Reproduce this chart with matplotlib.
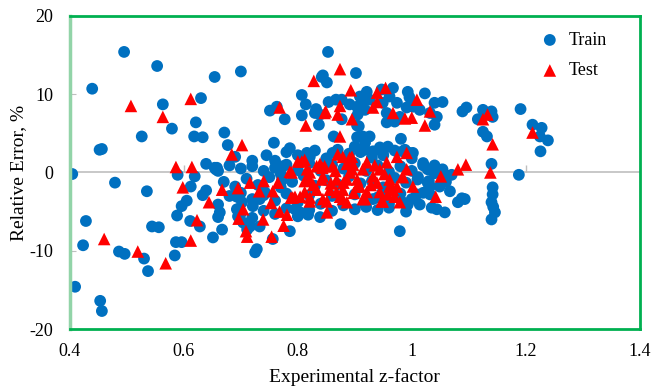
import numpy as np
import matplotlib
matplotlib.use("Agg")
import matplotlib.pyplot as plt

plt.rcParams["font.family"] = ["Liberation Serif", "DejaVu Serif"]

# (experimental z-factor, relative error %) pairs, grouped by region
train_left = [
    (0.404, -0.2), (0.409, -14.6), (0.423, -9.3), (0.428, -6.2), (0.439, 10.7),
    (0.452, 2.9), (0.456, 3.0), (0.453, -16.4), (0.456, -17.7), (0.479, -1.3),
    (0.486, -10.1), (0.496, -10.4), (0.495, 15.4), (0.526, 4.6), (0.530, -11.0),
    (0.535, -2.4), (0.537, -12.6), (0.544, -6.9), (0.556, -7.0), (0.553, 13.6),
    (0.563, 8.7), (0.579, 5.6), (0.584, -10.6), (0.586, -8.9), (0.596, -8.9),
    (0.589, -0.3), (0.619, -0.5), (0.612, -1.8), (0.639, -2.3), (0.633, -2.9),
    (0.605, -3.6), (0.596, -4.3), (0.588, -5.5), (0.611, -6.2), (0.628, -6.9),
    (0.651, -8.3), (0.621, 6.4), (0.618, 4.6), (0.633, 4.5), (0.630, 9.5),
    (0.654, 12.2), (0.700, 12.9), (0.639, 1.1), (0.654, 0.6), (0.671, 5.1),
    (0.677, 3.5), (0.656, 0.4), (0.660, -4.1), (0.660, -5.7), (0.667, -7.3),
    (0.663, -5.1), (0.693, -3.1), (0.693, -4.7), (0.702, -3.8), (0.695, -5.6),
    (0.704, -6.4), (0.711, -7.3), (0.716, -6.9), (0.728, -9.8), (0.725, -10.2),
    (0.733, -3.4), (0.742, -2.5), (0.721, -4.3), (0.756, -8.5), (0.786, -7.5),
    (0.733, -6.9), (0.658, 0.6),
]

train_upper = [
    (0.758, 3.8), (0.786, 3.1), (0.751, 7.9), (0.763, 8.4), (0.777, 6.8),
    (0.807, 9.9), (0.814, 8.7), (0.807, 7.3), (0.837, 6.1), (0.830, 7.6),
    (0.842, 12.2), (0.853, 15.4), (0.851, 11.5), (0.902, 12.7), (0.844, 12.4),
    (0.854, 9.0), (0.867, 9.3), (0.877, 9.3), (0.891, 8.7), (0.904, 8.4),
    (0.832, 8.1), (0.839, 7.4), (0.877, 6.8), (0.863, 4.6), (0.904, 6.0),
    (0.904, 4.5), (0.816, 2.5), (0.821, 2.0), (0.921, 10.3), (0.909, 9.7),
    (0.914, 8.9), (0.905, 7.4), (0.918, 8.0), (0.926, 9.3), (0.947, 10.6),
    (0.967, 10.8), (0.961, 9.7), (0.974, 8.9), (0.949, 8.9), (0.956, 7.6),
    (0.993, 10.3), (1.023, 10.1), (0.996, 9.6), (1.002, 8.4), (1.014, 8.0),
    (0.991, 8.3), (0.979, 7.1), (1.040, 8.9), (1.054, 9.0), (1.044, 7.1),
    (1.040, 6.1), (1.032, 7.6), (0.956, 6.4), (0.970, 6.5), (0.907, 5.9),
    (0.914, 4.6), (0.926, 4.6), (0.918, 3.8), (0.981, 4.3), (0.944, 3.2),
    (0.958, 3.3), (0.932, 2.7), (0.949, 2.5), (0.984, 2.7), (0.996, 2.5),
    (0.861, 2.5), (0.900, 3.3), (0.918, 2.9), (0.944, 2.9), (1.002, 2.5),
    (0.988, 2.9),
]

train_right = [
    (1.089, 7.8), (1.096, 8.3), (1.116, 6.8), (1.125, 8.0), (1.140, 7.8),
    (1.142, 7.1), (1.125, 5.2), (1.132, 4.6), (1.140, 1.1), (1.191, 8.1),
    (1.212, 6.1), (1.228, 5.7), (1.239, 4.1), (1.225, 4.6), (1.226, 2.7),
    (1.188, -0.3), (1.142, -1.9), (1.142, -2.8), (1.140, -3.8), (1.143, -4.4),
    (1.146, -5.1), (1.140, -6.0), (1.058, -0.3), (1.067, -2.4), (1.032, -2.8),
    (1.035, -4.5), (1.044, -4.7), (1.058, -5.1), (1.081, -3.8), (1.093, -3.4),
    (1.049, -1.8), (1.032, -1.8), (1.028, 0.4), (1.054, 0.4), (1.061, -0.5),
    (1.011, -0.6), (1.028, -1.3), (1.014, -4.1), (0.993, -4.1), (0.979, -7.5),
    (0.918, -4.1), (0.932, -3.4), (0.949, -2.5), (0.984, -3.8), (1.009, -2.8),
    (0.875, -6.6), (1.070, -0.3), (1.030, -1.1), (1.088, -3.3), (0.818, -5.4),
    (0.795, -4.7), (0.804, -5.1), (0.839, -5.7), (0.774, 0.8), (0.770, -0.2),
    (0.772, -1.0),
]

train_core = [
    (0.690, 2.0), (0.720, 1.5), (0.745, 2.2), (0.760, 1.5), (0.780, 2.6),
    (0.800, 2.2), (0.830, 2.8), (0.850, 1.8), (0.870, 2.9), (0.890, 2.4),
    (0.910, 2.6), (0.930, 1.9), (0.950, 2.2), (0.970, 2.8), (1.000, 1.8),
    (1.020, 1.2), (1.040, 0.9),
    (0.660, 0.2), (0.680, 0.9), (0.700, 0.5), (0.720, 0.8), (0.740, 0.2),
    (0.760, 0.6), (0.780, 1.0), (0.800, 0.3), (0.820, 1.2), (0.840, 0.2),
    (0.860, 1.0), (0.880, 0.5), (0.900, 1.2), (0.920, 0.2), (0.940, 0.9),
    (0.960, 0.1), (0.980, 0.8), (1.000, 0.2), (1.020, 0.9), (1.040, -0.1),
    (0.670, -1.2), (0.690, -1.8), (0.710, -0.8), (0.730, -1.6), (0.750, -0.6),
    (0.770, -1.9), (0.790, -1.2), (0.810, -0.4), (0.830, -1.7), (0.850, -1.0),
    (0.870, -1.5), (0.890, -0.5), (0.910, -1.4), (0.930, -1.1), (0.950, -1.9),
    (0.970, -0.7), (0.990, -1.3), (1.010, -0.9), (1.030, -1.5), (1.060, -1.2),
    (0.680, -3.0), (0.700, -2.6), (0.720, -3.4), (0.740, -2.9), (0.760, -3.6),
    (0.780, -2.7), (0.800, -3.8), (0.820, -2.9), (0.840, -4.0), (0.860, -3.0),
    (0.880, -4.2), (0.900, -2.8), (0.920, -4.4), (0.940, -3.2), (0.960, -4.0),
    (0.980, -2.7), (1.000, -3.4), (1.020, -2.6),
    (0.700, -5.2), (0.720, -5.8), (0.740, -4.9), (0.760, -5.3), (0.780, -4.6),
    (0.800, -5.6), (0.820, -4.8), (0.860, -4.9), (0.900, -4.7), (0.940, -4.8),
    (0.960, -4.5), (0.990, -5.0),
]

test_left = [
    (0.460, -8.5), (0.507, 8.5), (0.519, -10.1), (0.563, 7.1), (0.568, -11.6),
    (0.586, 0.7), (0.614, 0.7), (0.598, -1.9), (0.612, 9.4), (0.612, -8.7),
    (0.623, -6.1), (0.644, -3.8), (0.684, 2.3), (0.702, 3.5), (0.667, -2.2),
    (0.695, -2.0), (0.704, -4.7), (0.696, -5.9), (0.709, -7.5), (0.711, -8.2),
    (0.716, -1.3), (0.732, -2.4), (0.740, -1.1), (0.753, -3.9), (0.739, -6.0),
    (0.754, -8.2), (0.756, -2.4), (0.765, -1.3), (0.768, -5.0), (0.775, -6.8),
    (0.781, -5.4), (0.786, 0.1), (0.788, -3.2), (0.795, -3.1), (0.804, -3.1),
]

test_upper = [
    (0.768, 8.3), (0.814, 6.0), (0.828, 11.7), (0.847, 7.6), (0.874, 13.2),
    (0.893, 10.5), (0.874, 8.5), (0.849, 7.8), (0.870, 7.4), (0.895, 6.8),
    (0.874, 4.6), (0.812, 1.6), (0.839, 1.1), (0.870, 2.3), (0.879, 2.0),
    (0.895, 2.0), (0.886, 1.1), (0.939, 10.2), (0.939, 9.0), (0.932, 8.3),
    (0.954, 10.8), (0.967, 7.6), (1.009, 9.3), (1.032, 7.8), (0.988, 6.9),
    (1.000, 7.0), (1.023, 6.0), (0.991, 2.5), (1.125, 6.8), (1.133, 7.4),
    (1.142, 3.6), (1.212, 5.1), (1.138, 0.0), (1.095, 1.0), (1.081, 0.4),
    (1.051, -0.5), (1.042, -3.1), (0.974, 2.0),
]

test_core = [
    (0.812, -2.5), (0.821, -3.2), (0.851, -5.1), (0.851, -3.7), (0.842, -0.9),
    (0.821, -0.9), (0.816, 0.4), (0.833, 0.8), (0.800, 1.4), (0.847, 0.8),
    (0.868, -2.5), (0.879, -3.4), (0.886, -3.8), (0.861, 0.8), (0.886, -0.9),
    (0.895, 0.4), (0.904, -1.8), (1.002, -1.8), (0.984, -0.6), (0.979, -3.8),
    (0.970, -3.1), (0.947, -3.7), (0.967, -2.2), (0.914, -3.4),
    (0.807, 1.4), (0.843, 0.6), (0.891, 1.9), (0.921, 1.3), (0.956, 1.3),
    (0.991, 0.4), (0.974, -1.8), (0.949, -3.7), (0.918, -3.4), (0.821, -3.7),
    (0.791, -3.2), (0.844, -0.5), (0.868, -0.9), (0.904, -0.9), (0.932, -0.5),
    (0.961, -0.9), (0.984, -0.5), (0.856, -2.2), (0.879, -2.2), (0.921, -2.5),
    (0.944, -2.5), (0.821, 0.0), (0.891, 0.0), (0.914, 0.4), (0.944, 0.4),
    (0.812, -1.1), (0.789, 0.0), (0.833, -2.2), (0.874, -3.1), (0.939, -1.3),
    (0.961, -1.8), (0.909, -1.8), (0.844, -3.4),
    (0.858, -1.4), (0.898, -2.6), (0.928, -1.6), (0.952, -0.2), (0.897, 1.0),
    (0.866, 0.2), (0.935, 0.9), (0.827, -1.6), (0.880, -1.3), (0.958, -2.8),
]

x_ticks = [0.4, 0.6, 0.8, 1.0, 1.2, 1.4]
x_labels = ["0.4", "0.6", "0.8", "1", "1.2", "1.4"]
y_ticks = [-20, -10, 0, 10, 20]
y_labels = ["-20", "-10", "0", "10", "20"]

train = np.array(train_left + train_upper + train_right + train_core)
test = np.array(test_left + test_upper + test_core)

fig = plt.figure(figsize=(6.51, 3.88), dpi=100)
ax = fig.add_axes([0.1075, 0.152, 0.875, 0.807])

# gray zero line with small upward ticks, like a category axis crossing at 0
ax.axhline(0, color="#bfbfbf", lw=1.2, zorder=1)
ax.plot(x_ticks[1:-1], np.zeros(len(x_ticks) - 2), ls="", marker=2, ms=5,
        mew=1.0, color="#bfbfbf", zorder=1)

ax.scatter(train[:, 0], train[:, 1], s=72, marker="o", color="#0070c0",
           edgecolors="none", label="Train", zorder=2)
ax.scatter(test[:, 0], test[:, 1], s=82, marker="^", color="#ff0000",
           edgecolors="none", label="Test", zorder=3)

ax.set_xlim(0.4, 1.4)
ax.set_ylim(-20, 20)
ax.set_xticks(x_ticks)
ax.set_xticklabels(x_labels)
ax.set_yticks(y_ticks)
ax.set_yticklabels(y_labels)
ax.tick_params(axis="x", length=0, pad=10, labelsize=13)
ax.tick_params(axis="y", direction="in", length=4, color="#bfbfbf",
               pad=12, labelsize=13)

for side in ["top", "right", "bottom"]:
    ax.spines[side].set_color("#00b050")
    ax.spines[side].set_linewidth(2)
ax.spines["left"].set_color("#92d4a8")
ax.spines["left"].set_linewidth(2.5)

ax.set_xlabel("Experimental z-factor", fontsize=14, labelpad=6)
ax.set_ylabel("Relative Error, %", fontsize=14, labelpad=2)

ax.legend(loc="upper right", frameon=False, fontsize=13, handletextpad=0.05,
          borderaxespad=0.3, labelspacing=0.75, markerscale=1.0,
          bbox_to_anchor=(0.965, 0.99))

fig.savefig("out.png", dpi=100)
